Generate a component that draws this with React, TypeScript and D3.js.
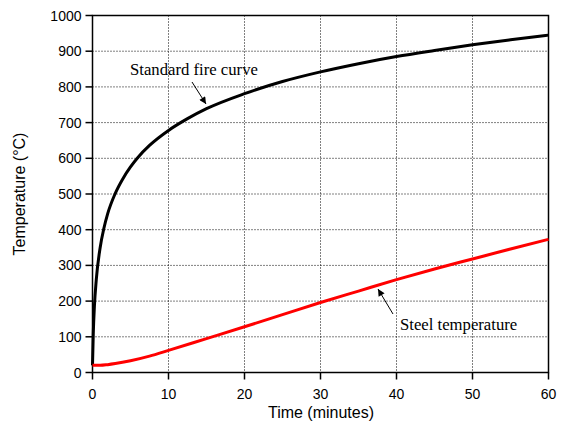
import React from "react";
import * as d3 from "d3";

const timeMin = [0, 0.1, 0.25, 0.5, 1, 1.5, 2, 3, 4, 5, 6, 7.5, 10, 12.5, 15, 20, 25, 30, 35, 40, 45, 50, 55, 60];
const fireTemp = [20, 108, 185, 261, 349, 404, 445, 502, 543, 576, 603, 636, 678, 711, 739, 781, 815, 842, 865, 885, 902, 918, 932, 945];
const steelTime = [0, 1, 2, 3, 5, 7.5, 10, 15, 20, 25, 30, 35, 40, 45, 50, 55, 60];
const steelTemp = [20, 20, 22, 25, 33, 46, 62, 95, 128, 162, 196, 228, 260, 290, 318, 346, 373];
const xTicks = [0, 10, 20, 30, 40, 50, 60];
const yTicks = [0, 100, 200, 300, 400, 500, 600, 700, 800, 900, 1000];

export default function App() {
  const W = 564, H = 430;
  const left = 92.5, right = 548.5, top = 15.5, bottom = 372.5;
  const x = d3.scaleLinear().domain([0, 60]).range([left, right]);
  const y = d3.scaleLinear().domain([0, 1000]).range([bottom, top]);
  const line = d3.line<[number, number]>().x(d => x(d[0])).y(d => y(d[1])).curve(d3.curveMonotoneX);
  const fire = line(timeMin.map((t, i) => [t, fireTemp[i]] as [number, number])) || "";
  const steel = line(steelTime.map((t, i) => [t, steelTemp[i]] as [number, number])) || "";
  const sans = "Arial, 'Liberation Sans', sans-serif";
  const serif = "'Times New Roman', 'Liberation Serif', serif";
  return (
    <svg width={W} height={H} style={{ position: "absolute", left: 0, top: 0, background: "#fff" }}>
      <defs>
        <marker id="ah" viewBox="0 0 10 10" refX="10" refY="5" markerWidth="9" markerHeight="7" orient="auto" markerUnits="userSpaceOnUse">
          <path d="M0,0 L10,5 L0,10 z" fill="#000" />
        </marker>
      </defs>
      {xTicks.slice(1, -1).map(t => (
        <line key={"gx" + t} x1={x(t)} x2={x(t)} y1={top} y2={bottom} stroke="#000" strokeWidth={1} strokeDasharray="1,2" />
      ))}
      {yTicks.slice(1, -1).map(t => (
        <line key={"gy" + t} x1={left} x2={right} y1={y(t)} y2={y(t)} stroke="#000" strokeWidth={1} strokeDasharray="1,2" />
      ))}
      <rect x={left} y={top} width={right - left} height={bottom - top} fill="none" stroke="#000" strokeWidth={1.5} />
      {xTicks.map(t => (
        <g key={"tx" + t}>
          <line x1={x(t)} x2={x(t)} y1={bottom} y2={bottom + 7} stroke="#000" strokeWidth={1.5} />
          <text x={x(t)} y={bottom + 26} textAnchor="middle" fontFamily={sans} fontSize={14} fill="#000">{t}</text>
        </g>
      ))}
      {yTicks.map(t => (
        <g key={"ty" + t}>
          <line x1={left - 7} x2={left} y1={y(t)} y2={y(t)} stroke="#000" strokeWidth={1.5} />
          <text x={left - 11} y={y(t) + 5} textAnchor="end" fontFamily={sans} fontSize={14} fill="#000">{t}</text>
        </g>
      ))}
      <path d={fire} fill="none" stroke="#000" strokeWidth={3} />
      <path d={steel} fill="none" stroke="#ff0000" strokeWidth={3} />
      <text x={130} y={75} fontFamily={serif} fontSize={16.7} fill="#000">Standard fire curve</text>
      <line x1={192} y1={82} x2={206} y2={104} stroke="#000" strokeWidth={1} markerEnd="url(#ah)" />
      <text x={400} y={330} fontFamily={serif} fontSize={16.7} fill="#000">Steel temperature</text>
      <line x1={393} y1={314} x2={378} y2={289} stroke="#000" strokeWidth={1} markerEnd="url(#ah)" />
      <text x={321} y={418} textAnchor="middle" fontFamily={sans} fontSize={16} fill="#000">Time (minutes)</text>
      <text transform={`translate(25,${(top + bottom) / 2}) rotate(-90)`} textAnchor="middle" fontFamily={sans} fontSize={16} fill="#000">Temperature (°C)</text>
    </svg>
  );
}
